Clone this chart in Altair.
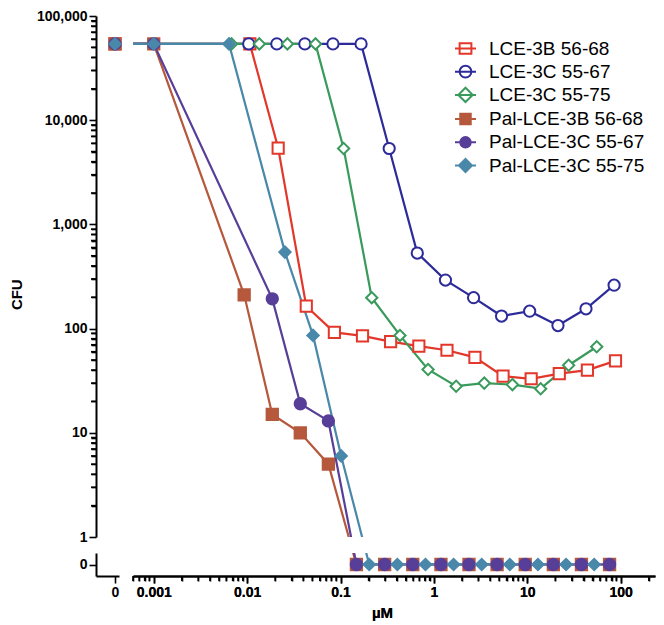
import math
import altair as alt
import pandas as pd

# ---------------- data ----------------
SERIES = ["LCE-3B 56-68", "LCE-3C 55-67", "LCE-3C 55-75",
          "Pal-LCE-3B 56-68", "Pal-LCE-3C 55-67", "Pal-LCE-3C 55-75"]
COLORS = ["#E2372A", "#2D2B99", "#3A9A5C", "#B5583C", "#573E98", "#4A88AA"]

conc_lce3b_5668 = [0, 0.0107, 0.0215, 0.043, 0.086, 0.172, 0.344, 0.69, 1.38, 2.75, 5.5, 11, 22, 44, 88]
cfu_lce3b_5668 = [54000, 54000, 5400, 164, 92, 85, 75, 68, 62, 53, 35, 33, 37, 40, 49]

conc_lce3c_5567 = [0, 0.0104, 0.0208, 0.0415, 0.083, 0.166, 0.332, 0.664, 1.33, 2.66, 5.3, 10.6, 21.3, 42.5, 85]
cfu_lce3c_5567 = [54000, 54000, 54000, 54000, 54000, 54000, 5350, 531, 292, 198, 132, 147, 107, 155, 261]

conc_lce3c_5575 = [0, 0.0068, 0.0135, 0.027, 0.054, 0.108, 0.216, 0.433, 0.866, 1.73, 3.46, 6.93, 13.9, 27.7, 55.4]
cfu_lce3c_5575 = [54000, 54000, 54000, 54000, 54000, 5350, 198, 86, 40.5, 28, 30, 29, 26.5, 44.5, 67]

conc_pal3b_5668 = [0, 0.001, 0.0093, 0.0186, 0.0371, 0.0742, 0.148, 0.297, 0.594, 1.19, 2.375, 4.75, 9.5, 19, 38, 76]
cfu_pal3b_5668 = [54000, 54000, 211, 15, 10, 5, 0, 0, 0, 0, 0, 0, 0, 0, 0, 0]

conc_pal3c_5567 = [0, 0.001, 0.0186, 0.0371, 0.0742, 0.148, 0.297, 0.594, 1.19, 2.375, 4.75, 9.5, 19, 38, 76]
cfu_pal3c_5567 = [54000, 54000, 193, 19, 13, 0, 0, 0, 0, 0, 0, 0, 0, 0, 0]

conc_pal3c_5575 = [0, 0.001, 0.0064, 0.0254, 0.0508, 0.1016, 0.203, 0.406, 0.8125, 1.625, 3.25, 6.5, 13, 26, 52]
cfu_pal3c_5575 = [54000, 54000, 54000, 542, 86, 6, 0, 0, 0, 0, 0, 0, 0, 0, 0]

Y_MAJOR = [1, 10, 100, 1000, 10000, 100000]
X_MAJOR = [0.001, 0.01, 0.1, 1, 10, 100]

CONCS = [conc_lce3b_5668, conc_lce3c_5567, conc_lce3c_5575,
         conc_pal3b_5668, conc_pal3c_5567, conc_pal3c_5575]
CFUS = [cfu_lce3b_5668, cfu_lce3c_5567, cfu_lce3c_5575,
        cfu_pal3b_5668, cfu_pal3c_5567, cfu_pal3c_5575]

rows = []
for name, cs, vs in zip(SERIES, CONCS, CFUS):
    for c, v in zip(cs, vs):
        rows.append({"series": name, "conc": c, "cfu": v})
df = pd.DataFrame(rows)
legend_df = pd.DataFrame({"series_l": SERIES})

# minor tick positions of the two log axes
Y_MINOR = [m * k for m in Y_MAJOR[:-1] for k in range(2, 10)]
X_MINOR = [0.0006, 0.0007, 0.0008, 0.0009] + \
    [round(m * k, 6) for m in X_MAJOR[:-1] for k in range(2, 10)] + [200]
y_minor_df = pd.DataFrame({"t": Y_MINOR})
x_minor_df = pd.DataFrame({"t": X_MINOR})

# ---------------- layout ----------------
H_MAIN = 521
H_LOW = 23
GAP_Y = 16
W_LEFT = 23
GAP_X = 14
W_MAIN = 522
X_MIN, X_MAX = 0.0006, 233
LEFT_DOMAIN = [-0.95, 0.2]
LOW_DOMAIN = [-1, 1]
MINOR_LEN = 5

dec_y = H_MAIN / 5.0
dec_x = W_MAIN / math.log10(X_MAX / X_MIN)
zero_below_px = GAP_Y + H_LOW / 2.0
y_zero_top = 10 ** (-zero_below_px / dec_y)
zero_left_px = W_LEFT * LEFT_DOMAIN[1] / (LEFT_DOMAIN[1] - LEFT_DOMAIN[0]) + GAP_X
x_zero_main = X_MIN * 10 ** (-zero_left_px / dec_x)
u_low = H_LOW / (LOW_DOMAIN[1] - LOW_DOMAIN[0])

FONT = "Liberation Sans"

# ---------------- axes & scales ----------------
y_major_axis = alt.Axis(
    orient="left", values=Y_MAJOR, format=",", tickSize=7, labelOverlap=False, labelFlush=False,
    title="CFU", titleY=0.534 * H_MAIN, titlePadding=12,
)
y_minor_axis = alt.Axis(
    orient="left", values=Y_MINOR, tickSize=MINOR_LEN, labels=False, domain=False, title="",
    tickColor="black", tickWidth=1.6, zindex=2,
)
x_major_axis = alt.Axis(
    orient="bottom", values=X_MAJOR, format="~g", tickSize=7, labelOverlap=False, labelFlush=False,
    title="µM", titleX=249, titlePadding=6,
)
x_minor_axis = alt.Axis(
    orient="bottom", values=X_MINOR, tickSize=MINOR_LEN, labels=False, domain=False, title="",
    tickColor="black", tickWidth=1.6, zindex=2,
)

x_left_scale = alt.Scale(domain=LEFT_DOMAIN, nice=False, zero=False)
x_main_scale = alt.Scale(type="log", domain=[X_MIN, X_MAX], nice=False)
y_main_scale = alt.Scale(type="log", domain=[1, 100000], nice=False)
y_low_scale = alt.Scale(domain=LOW_DOMAIN, nice=False, zero=False)

FILLS = ["white", "white", "white", COLORS[3], COLORS[4], COLORS[5]]
SHAPES = ["square", "circle", "diamond", "square", "circle", "diamond"]
SIZES = [125, 130, 180, 95, 100, 160]

stroke_enc = alt.Stroke("series:N", scale=alt.Scale(domain=SERIES, range=COLORS), legend=None)
fill_enc = alt.Fill("series:N", scale=alt.Scale(domain=SERIES, range=FILLS), legend=None)
shape_enc = alt.Shape("series:N", scale=alt.Scale(domain=SERIES, range=SHAPES), legend=None)
size_enc = alt.Size("series:N", scale=alt.Scale(domain=SERIES, range=SIZES), legend=None)

LEG_SHAPES = [
    "M-1,0H1M-0.56,-0.5H0.56V0.5H-0.56Z",
    "M-1,0H1M0.56,0A0.56,0.56,0,1,1,-0.56,0A0.56,0.56,0,1,1,0.56,0Z",
    "M-1,0H1M-0.68,0L0,-0.68L0.68,0L0,0.68Z",
    "M-1,0H1M-0.5,-0.5H0.5V0.5H-0.5Z",
    "M-1,0H1M0.5,0A0.5,0.5,0,1,1,-0.5,0A0.5,0.5,0,1,1,0.5,0Z",
    "M-1,0H1M-0.62,0L0,-0.62L0.62,0L0,0.62Z",
]
LEG_FILLS = ["transparent", "transparent", "transparent", COLORS[3], COLORS[4], COLORS[5]]
LEG = alt.Legend(
    orient="none", legendX=321, legendY=21, title=None,
    symbolSize=441, symbolStrokeWidth=2, symbolOpacity=1,
    labelFont=FONT, labelFontSize=19, labelColor="black", labelFontWeight="normal",
    labelOffset=12, rowPadding=1.2, padding=0, labelLimit=400,
)

point_mark = dict(strokeWidth=2, opacity=1)
LINE_W = 2.2
TICK_STYLE = dict(color="black", strokeWidth=1.6, clip=False)

# ---------------- panels ----------------
tl_pts = alt.Chart(df).transform_filter("datum.conc == 0 && datum.cfu > 0").mark_point(**point_mark).encode(
    x=alt.X("conc:Q", scale=x_left_scale, axis=None),
    y=alt.Y("cfu:Q", scale=y_main_scale, axis=y_major_axis),
    stroke=stroke_enc, fill=fill_enc, shape=shape_enc, size=size_enc,
)
# minor ticks: a second, label-less axis over the same log scale
tl_minor = alt.Chart(y_minor_df).mark_point(opacity=0).encode(
    y=alt.Y("t:Q", scale=y_main_scale, axis=y_minor_axis),
)
tl_minor_rules = alt.Chart(y_minor_df).mark_rule(**TICK_STYLE).encode(
    y=alt.Y("t:Q", scale=y_main_scale, axis=None),
    x=alt.value(-MINOR_LEN), x2=alt.value(0),
)
tl = alt.layer(tl_pts, tl_minor, tl_minor_rules).resolve_axis(y="independent").properties(
    width=W_LEFT, height=H_MAIN)

tr_lines = alt.Chart(df).transform_calculate(
    xm=f"datum.conc > 0 ? datum.conc : {x_zero_main}",
    ym=f"datum.cfu > 0 ? datum.cfu : {y_zero_top}",
).mark_line(strokeWidth=LINE_W, clip=True).encode(
    x=alt.X("xm:Q", scale=x_main_scale, axis=None),
    y=alt.Y("ym:Q", scale=y_main_scale, axis=None),
    stroke=stroke_enc,
)
tr_points = alt.Chart(df).transform_filter("datum.conc > 0 && datum.cfu > 0").mark_point(**point_mark).encode(
    x=alt.X("conc:Q", scale=x_main_scale, axis=None),
    y=alt.Y("cfu:Q", scale=y_main_scale, axis=None),
    stroke=stroke_enc, fill=fill_enc, shape=shape_enc, size=size_enc,
)
tr_legend = alt.Chart(legend_df).mark_point(opacity=0).encode(
    x=alt.value(0), y=alt.value(0),
    stroke=alt.Stroke("series_l:N", scale=alt.Scale(domain=SERIES, range=COLORS), legend=LEG),
    fill=alt.Fill("series_l:N", scale=alt.Scale(domain=SERIES, range=LEG_FILLS), legend=LEG),
    shape=alt.Shape("series_l:N", scale=alt.Scale(domain=SERIES, range=LEG_SHAPES), legend=LEG),
)
tr = alt.layer(tr_lines, tr_points, tr_legend).resolve_scale(
    stroke="independent", fill="independent", shape="independent", size="independent"
).properties(width=W_MAIN, height=H_MAIN)

bl = alt.Chart(df).transform_filter("datum.conc == 0 && datum.cfu == 0").mark_point(opacity=0).encode(
    x=alt.X("conc:Q", scale=x_left_scale, axis=alt.Axis(values=[0], format="d", title=None)),
    y=alt.Y("cfu:Q", scale=y_low_scale, axis=alt.Axis(values=[0], format="d", title=None)),
).properties(width=W_LEFT, height=H_LOW)

br_lines = alt.Chart(df).transform_filter("datum.conc > 0").transform_calculate(
    yl=f"datum.cfu > 0 ? ({zero_below_px} + {dec_y} * log(datum.cfu) / LN10) / {u_low} : 0"
).mark_line(strokeWidth=LINE_W, clip=True).encode(
    x=alt.X("conc:Q", scale=x_main_scale, axis=x_major_axis),
    y=alt.Y("yl:Q", scale=y_low_scale, axis=None),
    stroke=stroke_enc,
)
br_points = alt.Chart(df).transform_filter("datum.conc > 0 && datum.cfu == 0").mark_point(**point_mark).encode(
    x=alt.X("conc:Q", scale=x_main_scale, axis=x_major_axis),
    y=alt.Y("cfu:Q", scale=y_low_scale, axis=None),
    stroke=stroke_enc, fill=fill_enc, shape=shape_enc, size=size_enc,
)
br_minor = alt.Chart(x_minor_df).mark_point(opacity=0).encode(
    x=alt.X("t:Q", scale=x_main_scale, axis=x_minor_axis),
)
br_minor_rules = alt.Chart(x_minor_df).mark_rule(**TICK_STYLE).encode(
    x=alt.X("t:Q", scale=x_main_scale, axis=None),
    y=alt.value(H_LOW), y2=alt.value(H_LOW + MINOR_LEN),
)
br = alt.layer(br_lines, br_points, br_minor, br_minor_rules).resolve_axis(x="independent").properties(
    width=W_MAIN, height=H_LOW)

chart = alt.concat(
    tl, tr, bl, br, columns=2, spacing={"row": GAP_Y, "column": GAP_X}, bounds="flush"
).properties(
    padding={"left": 0, "top": 0, "right": 0, "bottom": 0}
).configure(font=FONT).configure_view(stroke="transparent").configure_axis(
    grid=False, domainColor="black", domainWidth=2, tickColor="black", tickWidth=1.6, tickSize=7,
    labelColor="black", labelFont=FONT, labelFontSize=14, labelFontWeight="bold", labelPadding=2,
    titleColor="black", titleFont=FONT, titleFontSize=15, titleFontWeight="bold",
)

chart.save("out.html", embed_options={"renderer": "svg", "actions": False})
